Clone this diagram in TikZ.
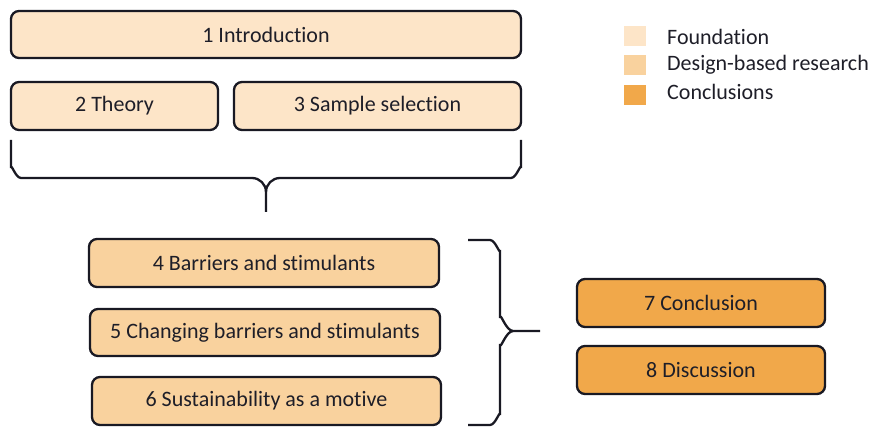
\documentclass[tikz,border=0pt]{standalone}
\usepackage{fontspec}
\setmainfont[Ligatures={NoCommon}]{Carlito}
\definecolor{fnd}{RGB}{253,229,200}
\definecolor{dbr}{RGB}{249,210,158}
\definecolor{ccl}{RGB}{241,168,74}
\definecolor{edge}{RGB}{25,25,35}
\definecolor{txt}{RGB}{30,30,40}
\begin{document}
\begin{tikzpicture}[x=1pt,y=-1pt,
  box/.style={draw=edge,line width=2.3pt,rounded corners=8pt,inner sep=0pt,
    font=\fontsize{22}{24}\selectfont,text=txt},
  leg/.style={inner sep=0pt,minimum width=22pt,minimum height=20pt},
  legtxt/.style={anchor=west,inner sep=0pt,font=\fontsize{22}{24}\selectfont,text=txt},
  brace/.style={draw=edge,line width=2.3pt}]
\useasboundingbox (0,0) rectangle (872,427);
\node[box,fill=fnd,minimum width=510pt,minimum height=47pt] (b1) at (266,34.5) {1 Introduction};
\node[box,fill=fnd,minimum width=207pt,minimum height=48pt] (b2) at (114.5,106) {2 Theory};
\node[box,fill=fnd,minimum width=287pt,minimum height=48pt] (b3) at (377.5,106) {3 Sample selection};
\node[box,fill=dbr,minimum width=350pt,minimum height=48pt] (b4) at (264,263) {4 Barriers and stimulants};
\node[box,fill=dbr,minimum width=350pt,minimum height=47pt] (b5) at (265,332.5) {5 Changing barriers and stimulants};
\node[box,fill=dbr,minimum width=349pt,minimum height=48pt] (b6) at (266.5,401) {6 Sustainability as a motive};
\node[box,fill=ccl,minimum width=248pt,minimum height=48pt] (b7) at (701,303) {7 Conclusion};
\node[box,fill=ccl,minimum width=248pt,minimum height=48pt] (b8) at (701,370) {8 Discussion};
% legend
\node[leg,fill=fnd] (l1) at (635,36) {};
\node[leg,fill=dbr] (l2) at (635,65) {};
\node[leg,fill=ccl] (l3) at (635,95) {};
\node[legtxt] (t1) at (667,37) {Foundation};
\node[legtxt] (t2) at (667,65) {Design-based research};
\node[legtxt] (t3) at (667,92) {Conclusions};
% top brace
\draw[brace] (11,140) -- (11,168) to[out=90,in=180] (21,178) -- (252,178) to[out=0,in=90] (266,192) -- (266,212);
\draw[brace] (521,140) -- (521,168) to[out=90,in=0] (511,178) -- (280,178) to[out=180,in=90] (266,192);
% right brace
\draw[brace] (468,240) -- (490,240) to[out=0,in=-90] (500,250) -- (500,318) to[out=90,in=180] (513,331) -- (540,331);
\draw[brace] (468,425) -- (490,425) to[out=0,in=90] (500,415) -- (500,344) to[out=-90,in=180] (513,331);
\end{tikzpicture}
\end{document}
